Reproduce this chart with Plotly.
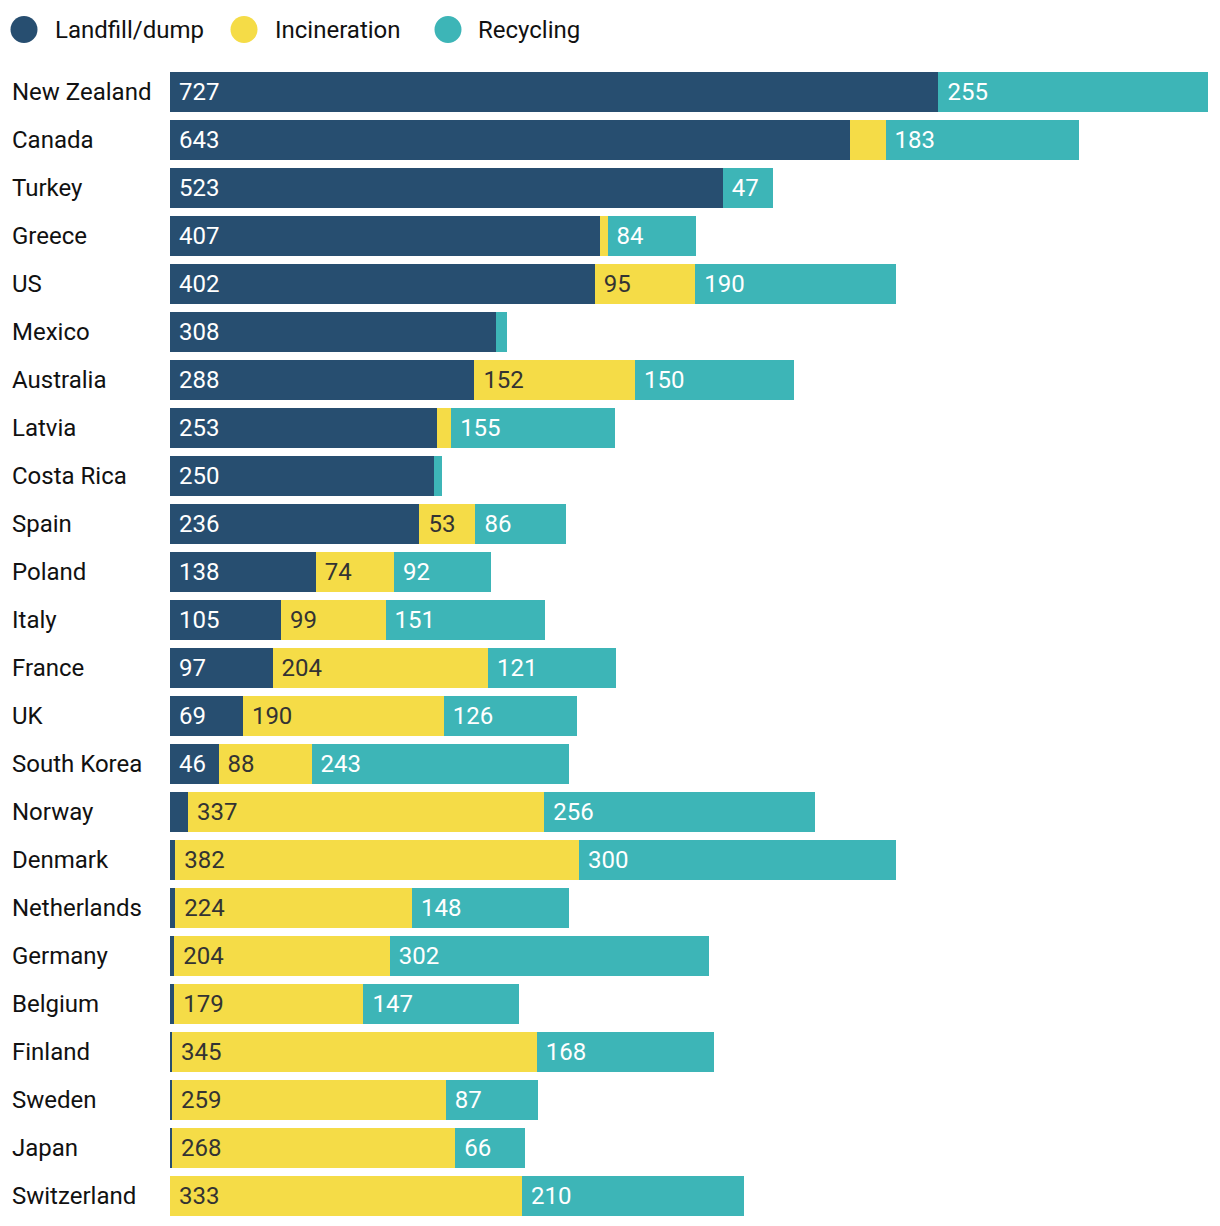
import plotly.graph_objects as go

countries = ["New Zealand", "Canada", "Turkey", "Greece", "US", "Mexico", "Australia",
             "Latvia", "Costa Rica", "Spain", "Poland", "Italy", "France", "UK",
             "South Korea", "Norway", "Denmark", "Netherlands", "Germany", "Belgium",
             "Finland", "Sweden", "Japan", "Switzerland"]
landfill = [727, 643, 523, 407, 402, 308, 288, 253, 250, 236, 138, 105, 97, 69,
            46, 17, 5, 5, 4, 4, 2, 2, 2, 0]
incineration = [0, 34, 0, 7, 95, 0, 152, 13, 0, 53, 74, 99, 204, 190,
                88, 337, 382, 224, 204, 179, 345, 259, 268, 333]
recycling = [255, 183, 47, 84, 190, 11, 150, 155, 7, 86, 92, 151, 121, 126,
             243, 256, 300, 148, 302, 147, 168, 87, 66, 210]

series_names = ["Landfill/dump", "Incineration", "Recycling"]
series_vals = [landfill, incineration, recycling]
colors = ["#274E70", "#F5DC47", "#3DB5B7"]
text_colors = ["#FFFFFF", "#333333", "#FFFFFF"]

FONT = "Roboto"
FS = 24
MIN_LABEL = 40

W, H = 1212, 1218
ML, MR, MT, MB = 162, 12, 60, 6
PW = W - ML - MR
PH = H - MT - MB

fig = go.Figure()
for name, vals, color, tcolor in zip(series_names, series_vals, colors, text_colors):
    fig.add_trace(go.Bar(
        y=countries, x=vals, orientation="h", name=name,
        marker=dict(color=color, line=dict(width=0)),
        text=["\u00a0" + str(v) if v >= MIN_LABEL else "" for v in vals],
        textposition="inside", insidetextanchor="start", textangle=0,
        insidetextfont=dict(color=tcolor, size=FS, family=FONT),
        showlegend=False, hoverinfo="x+y+name",
    ))

# Country labels, left aligned
for c in countries:
    fig.add_annotation(x=-160 / PW, xref="paper", y=c, yref="y", text=c,
                       xanchor="left", yanchor="middle", showarrow=False,
                       font=dict(size=FS, family=FONT, color="#111111"))

# Legend (circles + text)
legend_circle_px = [16, 236, 440]
legend_text_px = [47, 267, 470]
ly = 1 + 38.5 / PH
R = 13.5
for name, color, cx, tx in zip(series_names, colors, legend_circle_px, legend_text_px):
    fig.add_shape(type="circle", xref="paper", yref="paper",
                  xsizemode="pixel", ysizemode="pixel",
                  xanchor=(cx - ML) / PW, yanchor=ly,
                  x0=-R, x1=R, y0=-R, y1=R,
                  fillcolor=color, line=dict(width=0))
    fig.add_annotation(x=(tx - ML - 2) / PW, xref="paper", y=ly, yref="paper",
                       text=name, xanchor="left", yanchor="middle", showarrow=False,
                       font=dict(size=FS, family=FONT, color="#111111"))

fig.update_layout(
    barmode="stack", bargap=1 / 6,
    width=W, height=H,
    margin=dict(l=ML, r=MR, t=MT, b=MB),
    paper_bgcolor="white", plot_bgcolor="white",
    font=dict(family=FONT, size=FS, color="#111111"),
    showlegend=False,
    xaxis=dict(range=[0, 982], visible=False, fixedrange=True),
    yaxis=dict(categoryorder="array", categoryarray=countries, autorange="reversed",
               showticklabels=False, showgrid=False, zeroline=False, fixedrange=True),
)

fig.write_html("out.html")
